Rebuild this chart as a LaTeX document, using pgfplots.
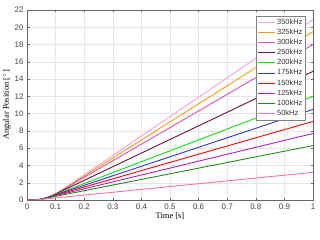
\documentclass[border=0pt]{standalone}
\usepackage{fontspec}
\setmainfont{Liberation Sans}
\newfontfamily\serifel{Liberation Serif}
\usepackage{pgfplots}
\pgfplotsset{compat=1.18}
\definecolor{c350}{HTML}{F0A0E8}
\definecolor{c325}{HTML}{F0A010}
\definecolor{c300}{HTML}{E050B0}
\definecolor{c250}{HTML}{701030}
\definecolor{c200}{HTML}{10E010}
\definecolor{c175}{HTML}{3030F0}
\definecolor{c150}{HTML}{FF0000}
\definecolor{c125}{HTML}{B020C0}
\definecolor{c100}{HTML}{208A20}
\definecolor{c50}{HTML}{FF70A8}
\begin{document}
\begin{tikzpicture}[x=1bp,y=1bp]
\useasboundingbox (0,0) rectangle (320,240);
\begin{axis}[
  at={(27bp,40bp)}, anchor=south west,
  width=286bp, height=190bp, scale only axis,
  xmin=0, xmax=1, ymin=0, ymax=22,
  xtick={0,0.1,...,1}, ytick={0,2,...,22},
  /pgf/number format/assume math mode=true,
  xticklabel style={font=\fontsize{8}{9}\selectfont, text=black!75},
  yticklabel style={font=\fontsize{8}{9}\selectfont, text=black!75},
  xticklabel={\pgfmathprintnumber[fixed,precision=1]{\tick}},
  grid=major, major grid style={gray!20, line width=0.4pt},
  axis line style={black!60, line width=0.5pt},
  tick style={black!60, line width=0.4pt},
  major tick length=2.5bp,
  tick align=inside,
  xlabel={\serifel Time [s]}, ylabel={\serifel Angular Position [$^\circ$]},
  xlabel style={font=\fontsize{8.5}{9}\selectfont, yshift=3bp},
  ylabel style={font=\fontsize{8.5}{9}\selectfont, yshift=-3bp},
  legend style={at={(0.975,0.97)}, anchor=north east, font=\fontsize{7.5}{8.5}\selectfont,
    draw=black!50, line width=0.4pt, inner sep=1.2pt, row sep=-0.8pt, text=black!80},
  legend image post style={line width=1pt},
  legend cell align=left,
  every axis plot/.append style={line width=0.9pt},
]
\addplot[c350] coordinates {(0,0)(0.02,0)(0.03,0.011)(0.04,0.044)(0.05,0.099)(0.06,0.176)(0.07,0.275)(0.08,0.396)(0.09,0.539)(0.1,0.704)(0.11,0.891)(0.122,1.151)(1,20.9)};
\addlegendentry{350kHz}
\addplot[c325] coordinates {(0,0)(0.02,0)(0.03,0.011)(0.04,0.044)(0.05,0.099)(0.06,0.176)(0.07,0.275)(0.08,0.396)(0.09,0.539)(0.1,0.704)(0.108,0.853)(0.115,0.993)(1,19.5)};
\addlegendentry{325kHz}
\addplot[c300] coordinates {(0,0)(0.02,0)(0.03,0.011)(0.04,0.044)(0.05,0.099)(0.06,0.176)(0.07,0.275)(0.08,0.396)(0.09,0.539)(0.1,0.704)(0.1073,0.838)(1,18.0)};
\addlegendentry{300kHz}
\addplot[c250] coordinates {(0,0)(0.02,0)(0.03,0.011)(0.04,0.044)(0.05,0.099)(0.06,0.176)(0.07,0.275)(0.08,0.396)(0.0918,0.567)(1,14.9)};
\addlegendentry{250kHz}
\addplot[c200] coordinates {(0,0)(0.02,0)(0.03,0.011)(0.04,0.044)(0.05,0.099)(0.06,0.176)(0.07,0.275)(0.0773,0.361)(1,12.0)};
\addlegendentry{200kHz}
\addplot[c175] coordinates {(0,0)(0.02,0)(0.03,0.011)(0.04,0.044)(0.05,0.099)(0.06,0.176)(0.07,0.275)(1,10.5)};
\addlegendentry{175kHz}
\addplot[c150] coordinates {(0,0)(0.02,0)(0.03,0.011)(0.04,0.044)(0.05,0.099)(0.0632,0.205)(1,9.1)};
\addlegendentry{150kHz}
\addplot[c125] coordinates {(0,0)(0.02,0)(0.03,0.011)(0.04,0.044)(0.05,0.099)(0.0564,0.145)(1,7.7)};
\addlegendentry{125kHz}
\addplot[c100] coordinates {(0,0)(0.02,0)(0.03,0.011)(0.04,0.044)(0.0497,0.097)(1,6.3)};
\addlegendentry{100kHz}
\addplot[c50] coordinates {(0,0)(0.02,0)(0.03,0.011)(0.035,0.025)(1,3.2)};
\addlegendentry{50kHz}
\end{axis}
\end{tikzpicture}
\end{document}
